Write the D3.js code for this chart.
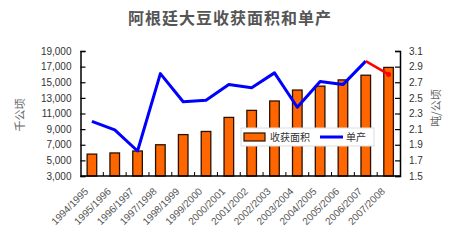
<!DOCTYPE html>
<html>
<head>
<meta charset="utf-8">
<script src="https://cdn.jsdelivr.net/npm/d3@7"></script>
<style>
  html, body { margin: 0; padding: 0; background: #fff; }
  #chart { width: 450px; height: 250px; }
  text { font-family: "Liberation Sans", Arial, sans-serif; }
  .cjk { font-family: "Noto Sans CJK SC", sans-serif; }
</style>
</head>
<body>
<div id="chart"></div>
<script>
const seasons = ['1994/1995', '1995/1996', '1996/1997', '1997/1998', '1998/1999', '1999/2000', '2000/2001',
  '2001/2002', '2002/2003', '2003/2004', '2004/2005', '2005/2006', '2006/2007', '2007/2008']
// harvested area, thousand hectares
const area = [5800, 5950, 6200, 7000, 8300, 8700, 10500, 11400, 12600, 14000, 14500, 15300, 15900, 16900]
// yield, tonnes per hectare
const yieldT = [2.20, 2.09, 1.82, 2.81, 2.45, 2.47, 2.67, 2.63, 2.82, 2.38, 2.71, 2.67, 2.97, 2.80]
const leftTicks = [3000, 5000, 7000, 9000, 11000, 13000, 15000, 17000, 19000]
const rightTicks = [1.5, 1.7, 1.9, 2.1, 2.3, 2.5, 2.7, 2.9, 3.1]

const width = 450, height = 250
const margin = { top: 51, right: 50, bottom: 74, left: 80.5 }
const innerW = width - margin.left - margin.right
const innerH = height - margin.top - margin.bottom

const svg = d3.select('#chart').append('svg').attr('width', width).attr('height', height)

svg.append('text')
  .attr('class', 'cjk')
  .attr('x', 230).attr('y', 24)
  .attr('text-anchor', 'middle')
  .style('font-size', '16px').style('font-weight', 'bold').style('letter-spacing', '1px')
  .attr('fill', '#555')
  .text('阿根廷大豆收获面积和单产')

const g = svg.append('g').attr('transform', `translate(${margin.left},${margin.top})`)

const x = d3.scaleBand().domain(seasons).range([0, innerW]).paddingInner(0.58).paddingOuter(0.29)
const xb = d3.scaleBand().domain(seasons).range([0, innerW])
const yL = d3.scaleLinear().domain([3000, 19000]).range([innerH, 0])
const yR = d3.scaleLinear().domain([1.5, 3.1]).range([innerH, 0])

// bars
g.selectAll('rect.bar').data(seasons).join('rect')
  .attr('class', 'bar')
  .attr('x', d => x(d))
  .attr('y', (d, i) => yL(area[i]))
  .attr('width', x.bandwidth())
  .attr('height', (d, i) => innerH - yL(area[i]))
  .attr('fill', '#ff6600')
  .attr('stroke', '#2a1200')
  .attr('stroke-width', 1.3)

// category boundary ticks
g.selectAll('line.ct').data(seasons.slice(1)).join('line')
  .attr('x1', d => xb(d)).attr('x2', d => xb(d))
  .attr('y1', innerH).attr('y2', innerH - 4)
  .attr('stroke', '#000').attr('stroke-width', 1)

// axes
const axL = g.append('g')
  .call(d3.axisLeft(yL).tickValues(leftTicks).tickSize(-5).tickPadding(9).tickFormat(d3.format(',')))
const axR = g.append('g').attr('transform', `translate(${innerW},0)`)
  .call(d3.axisRight(yR).tickValues(rightTicks).tickSize(-5).tickPadding(9).tickFormat(d3.format('.1f')))
for (const ax of [axL, axR]) {
  ax.select('.domain').attr('stroke', '#000').attr('stroke-width', 1.5)
  ax.selectAll('.tick line').attr('stroke', '#000').attr('stroke-width', 1.2)
  ax.selectAll('.tick text').style('font-size', '10px').attr('fill', '#333')
}

g.append('line').attr('x1', 0).attr('x2', innerW).attr('y1', innerH).attr('y2', innerH)
  .attr('stroke', '#000').attr('stroke-width', 1.5)

// x labels
g.selectAll('text.xl').data(seasons).join('text')
  .attr('class', 'xl')
  .attr('transform', d => `translate(${xb(d) + xb.bandwidth() / 2 - 3},${innerH + 16}) rotate(-45)`)
  .attr('text-anchor', 'end')
  .style('font-size', '10px')
  .attr('fill', '#555')
  .text(d => d)

// yield line
const cx = d => x(d) + x.bandwidth() / 2
const pts = seasons.map((d, i) => [cx(d), yR(yieldT[i])])
const line = d3.line()
g.append('path').attr('d', line(pts.slice(0, -1)))
  .attr('fill', 'none').attr('stroke', '#0000ff').attr('stroke-width', 3).attr('stroke-linejoin', 'round')
g.append('path').attr('d', line(pts.slice(-2)))
  .attr('fill', 'none').attr('stroke', '#ff0000').attr('stroke-width', 2.5)
g.append('circle').attr('cx', pts[pts.length - 1][0]).attr('cy', pts[pts.length - 1][1]).attr('r', 2.5)
  .attr('fill', '#ff0000')

// axis titles
svg.append('text').attr('class', 'cjk')
  .attr('transform', 'translate(24,115) rotate(-90)')
  .attr('text-anchor', 'middle').style('font-size', '11px').attr('fill', '#666')
  .text('千公顷')
svg.append('text').attr('class', 'cjk')
  .attr('transform', 'translate(440,108) rotate(-90)')
  .attr('text-anchor', 'middle').style('font-size', '11px').attr('fill', '#666')
  .text('吨/公顷')

// legend
const lg = svg.append('g').attr('transform', 'translate(241,128)')
lg.append('rect').attr('width', 133).attr('height', 18).attr('fill', '#fff').attr('stroke', '#ddd')
lg.append('rect').attr('x', 3).attr('y', 5).attr('width', 21).attr('height', 8)
  .attr('fill', '#ff6600').attr('stroke', '#2a1200').attr('stroke-width', 1.2)
lg.append('text').attr('class', 'cjk').attr('x', 29).attr('y', 13)
  .style('font-size', '10px').attr('fill', '#333').text('收获面积')
lg.append('line').attr('x1', 79).attr('x2', 102).attr('y1', 9).attr('y2', 9)
  .attr('stroke', '#0000ff').attr('stroke-width', 3)
lg.append('text').attr('class', 'cjk').attr('x', 105).attr('y', 13)
  .style('font-size', '10px').attr('fill', '#333').text('单产')
</script>
</body>
</html>
